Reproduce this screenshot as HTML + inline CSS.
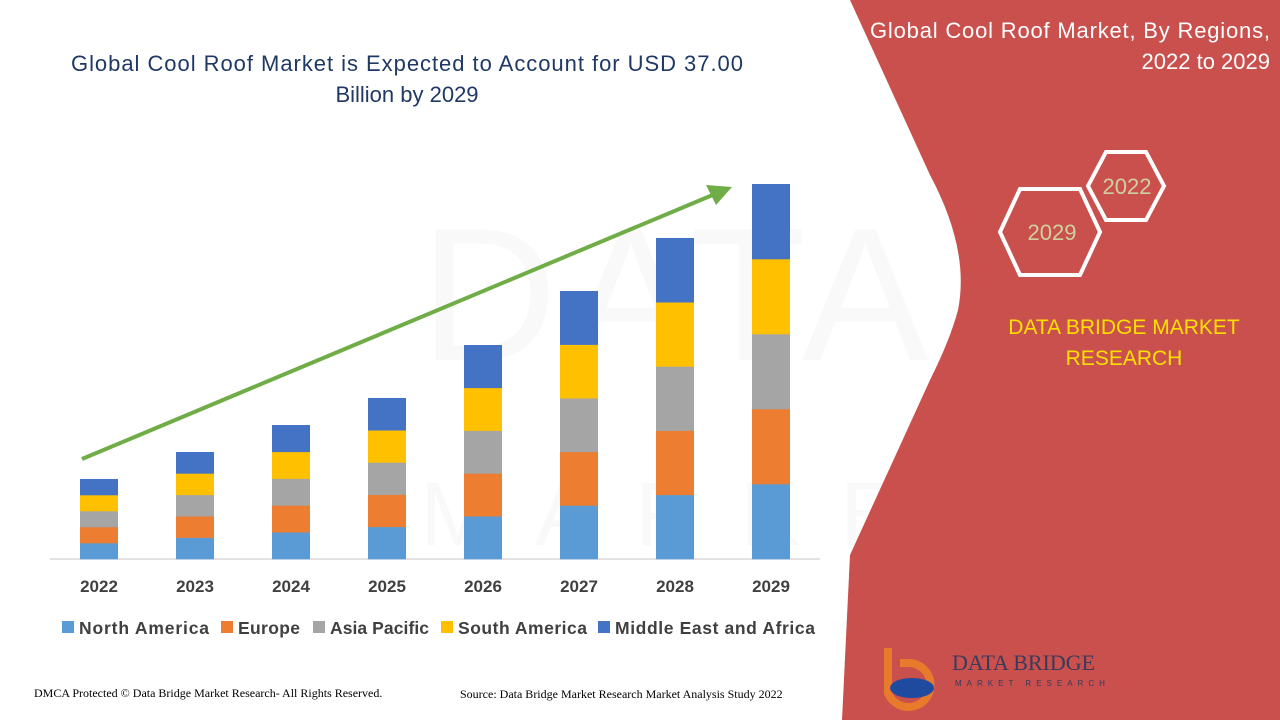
<!DOCTYPE html>
<html><head><meta charset="utf-8"><style>
html,body{margin:0;padding:0;}
body{width:1280px;height:720px;overflow:hidden;background:#fff;font-family:"Liberation Sans",sans-serif;}
</style></head><body>
<svg width="1280" height="720" viewBox="0 0 1280 720" xmlns="http://www.w3.org/2000/svg" style="position:absolute;left:0;top:0">
<rect width="1280" height="720" fill="#fff"/>
<g opacity="0.045" fill="#888">
<text x="420" y="360" font-size="190" font-family="Liberation Sans" letter-spacing="10">DATA BRIDGE</text>
<text x="420" y="545" font-size="90" font-family="Liberation Sans" letter-spacing="40">MARKET RESEARCH</text>
</g>
<path d="M850,0 L930,175 Q970,250 958,310 Q950,340 930,380 L850,555 L842,720 L1280,720 L1280,0 Z" fill="#c9504d"/>
<text x="1270" y="38" text-anchor="end" font-size="22" fill="#fff" textLength="400">Global Cool Roof Market, By Regions,</text>
<text x="1270" y="69" text-anchor="end" font-size="22" fill="#fff">2022 to 2029</text>
<polygon points="1106,152 1146,152 1164,186 1146,220 1106,220 1088,186" fill="none" stroke="#fff" stroke-width="4"/>
<polygon points="1020,189 1080,189 1100,232 1080,275 1020,275 1000,232" fill="none" stroke="#fff" stroke-width="4"/>
<text x="1127" y="194" text-anchor="middle" font-size="22" fill="#cfd0a0">2022</text>
<text x="1052" y="240" text-anchor="middle" font-size="22" fill="#cfd0a0">2029</text>
<text x="1124" y="334" text-anchor="middle" font-size="21" fill="#ffe000">DATA BRIDGE MARKET</text>
<text x="1124" y="365" text-anchor="middle" font-size="21" fill="#ffe000">RESEARCH</text>
<path d="M888,648 v45 a22,22 0 1 0 22,-30 h-10" fill="none" stroke="#e87a2c" stroke-width="8"/>
<ellipse cx="912" cy="688" rx="22" ry="10" fill="#1e4aa0"/>
<text x="952" y="670" font-size="22" fill="#3a3a5a" font-family="Liberation Serif">DATA BRIDGE</text>
<text x="955" y="686" font-size="8" fill="#3a3a5a" letter-spacing="5">MARKET RESEARCH</text>
<text x="407" y="71" text-anchor="middle" font-size="22" fill="#1f3864" textLength="672">Global Cool Roof Market is Expected to Account for USD 37.00</text>
<text x="407" y="102" text-anchor="middle" font-size="22" fill="#1f3864">Billion by 2029</text>
<line x1="50" y1="559" x2="820" y2="559" stroke="#d9d9d9" stroke-width="1.5"/>
<g id="bars"></g>
<line x1="82" y1="459" x2="715" y2="194" stroke="#70ad47" stroke-width="4"/>
<polygon points="732,187 706,185 716,205" fill="#70ad47"/>
<g font-size="17" font-weight="bold" fill="#404040" text-anchor="middle">
<text x="99" y="592">2022</text><text x="195" y="592">2023</text><text x="291" y="592">2024</text><text x="387" y="592">2025</text>
<text x="483" y="592">2026</text><text x="579" y="592">2027</text><text x="675" y="592">2028</text><text x="771" y="592">2029</text>
</g>
<g font-size="17.5" font-weight="bold" fill="#404040">
<rect x="62" y="621" width="12" height="12" fill="#5b9bd5"/><text x="79" y="634" textLength="130">North America</text>
<rect x="221" y="621" width="12" height="12" fill="#ed7d31"/><text x="238" y="634" textLength="62">Europe</text>
<rect x="313" y="621" width="12" height="12" fill="#a5a5a5"/><text x="330" y="634" textLength="99">Asia Pacific</text>
<rect x="441" y="621" width="12" height="12" fill="#ffc000"/><text x="458" y="634" textLength="129">South America</text>
<rect x="598" y="621" width="12" height="12" fill="#4472c4"/><text x="615" y="634" textLength="200">Middle East and Africa</text>
</g>
<text x="34" y="697" font-size="12" fill="#000" font-family="Liberation Serif">DMCA Protected © Data Bridge Market Research- All Rights Reserved.</text>
<text x="460" y="698" font-size="12" fill="#000" font-family="Liberation Serif">Source: Data Bridge Market Research Market Analysis Study 2022</text>
</svg>
<script>
var xs=[99,195,291,387,483,579,675,771],hs=[80,107,134,161,214,268,321,375];
var cols=["#5b9bd5","#ed7d31","#a5a5a5","#ffc000","#4472c4"];
var g=document.getElementById("bars"),s="";
for(var i=0;i<8;i++){var seg=hs[i]/5;for(var j=0;j<5;j++){s+='<rect x="'+(xs[i]-19)+'" y="'+(559-seg*(j+1))+'" width="38" height="'+(seg+0.3)+'" fill="'+cols[j]+'"/>';}}
g.innerHTML=s;
</script>
</body></html>
